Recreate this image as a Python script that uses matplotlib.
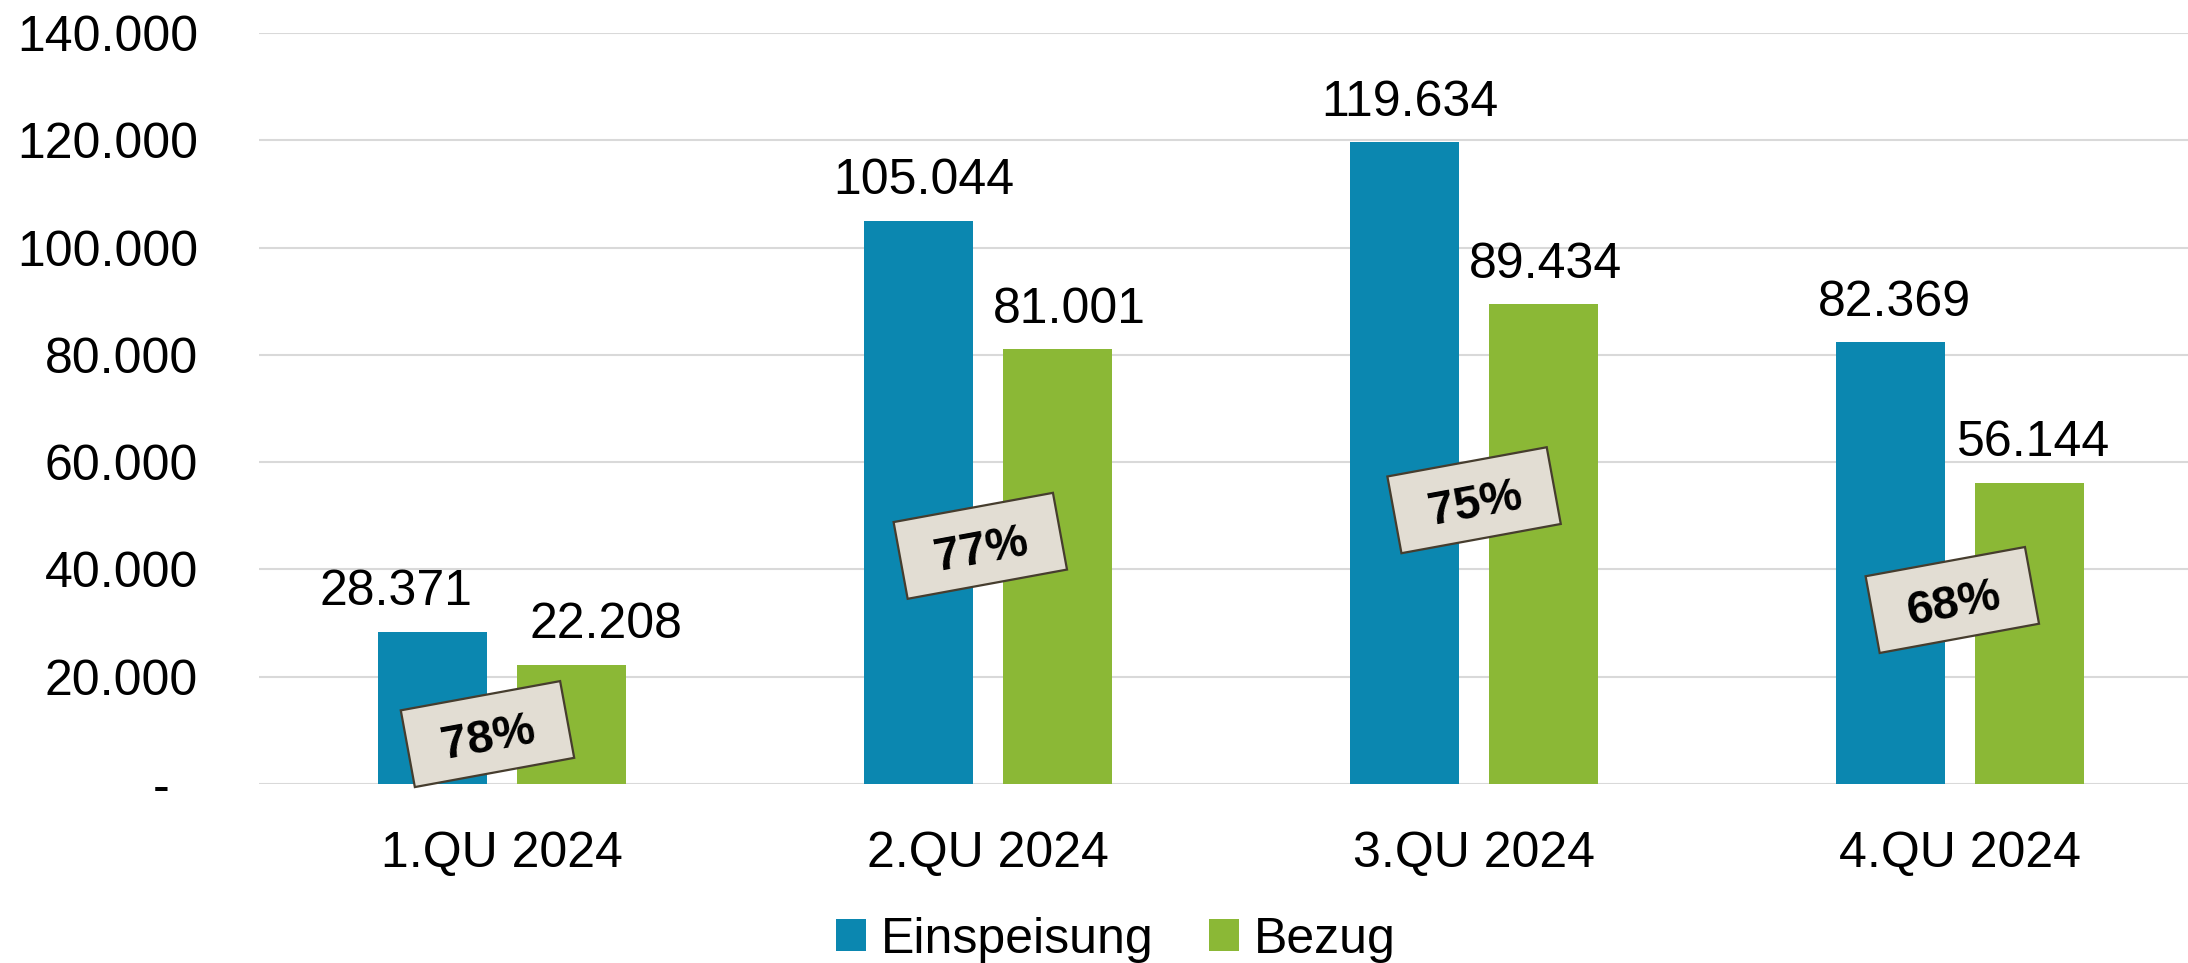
import matplotlib
matplotlib.use("Agg")
import matplotlib.pyplot as plt
from matplotlib.patches import Rectangle
from matplotlib.transforms import Affine2D, ScaledTranslation
from matplotlib.ticker import FuncFormatter
import numpy as np

# quarters and the two series (kWh)
quarters = ["1.QU 2024", "2.QU 2024", "3.QU 2024", "4.QU 2024"]
einspeisung = [28371, 105044, 119634, 82369]
bezug = [22208, 81001, 89434, 56144]
series_names = ["Einspeisung", "Bezug"]

# where the tilted percentage boxes sit (x in category units, y in data units)
box_x = [-0.03, 0.984, 2.0, 2.984]
box_y = [9300, 44400, 52900, 34300]
# horizontal nudge of the value labels in pixels
dx_blue = [-37, 5, 5, 4]
dx_green = [34, 12, 2, 4]

blue = "#0B87B0"
green = "#8BB836"

plt.rcParams["font.family"] = ["Liberation Sans", "DejaVu Sans"]

fig = plt.figure(figsize=(21.88, 9.63), dpi=100)
ax = fig.add_axes([0.1184, 0.1859, 0.8885, 0.7798])

x = np.arange(len(quarters))
w = 0.223
off = 0.143
b1 = ax.bar(x - off, einspeisung, w, color=blue, zorder=2, label=series_names[0])
b2 = ax.bar(x + off, bezug, w, color=green, zorder=2, label=series_names[1])

ax.set_xlim(-0.5, 3.5)
ax.set_ylim(0, 140000)
ax.set_yticks(np.arange(0, 140001, 20000))
ax.yaxis.set_major_formatter(FuncFormatter(
    lambda v, p: "-  " if v == 0 else f"{int(v):,}".replace(",", ".")))
ax.set_xticks(x)
ax.set_xticklabels(quarters)
ax.tick_params(axis="both", length=0, labelsize=36)
ax.tick_params(axis="y", pad=44)
ax.tick_params(axis="x", pad=34)
ax.grid(axis="y", color="#d9d9d9", linewidth=1.5, zorder=0)
for s in ax.spines.values():
    s.set_visible(False)

# value labels above the bars
fmt = lambda v: f"{v:,}".replace(",", ".")
for i in range(len(quarters)):
    ax.annotate(fmt(einspeisung[i]), (x[i] - off, einspeisung[i]),
                xytext=(dx_blue[i] * 0.72, 19), textcoords="offset points",
                ha="center", va="baseline", fontsize=36, zorder=5)
    ax.annotate(fmt(bezug[i]), (x[i] + off, bezug[i]),
                xytext=(dx_green[i] * 0.72, 19), textcoords="offset points",
                ha="center", va="baseline", fontsize=36, zorder=5)

# tilted boxes with the share Bezug / Einspeisung
angle = 10.4
for i in range(len(quarters)):
    pct = round(100 * bezug[i] / einspeisung[i])
    tr = Affine2D().rotate_deg(angle) + ScaledTranslation(box_x[i], box_y[i], ax.transData)
    ax.add_patch(Rectangle((-81, -39), 162, 78, transform=tr,
                           facecolor="#E2DDD3", edgecolor="#463d2e",
                           linewidth=1.6, zorder=6, clip_on=False))
    ax.text(box_x[i], box_y[i], f"{pct}%", rotation=angle, rotation_mode="anchor",
            ha="center", va="center_baseline", fontsize=34, fontweight="bold",
            zorder=7)

leg = fig.legend(handles=[b1, b2], labels=series_names, loc="center",
                 bbox_to_anchor=(0.51, 0.024), ncol=2, frameon=False,
                 handlelength=0.6, handleheight=0.6, handletextpad=0.3,
                 columnspacing=1.1, borderpad=0,
                 prop={"family": ["Liberation Sans Narrow", "Liberation Sans"], "size": 36})

fig.savefig("out.png", dpi=100)
